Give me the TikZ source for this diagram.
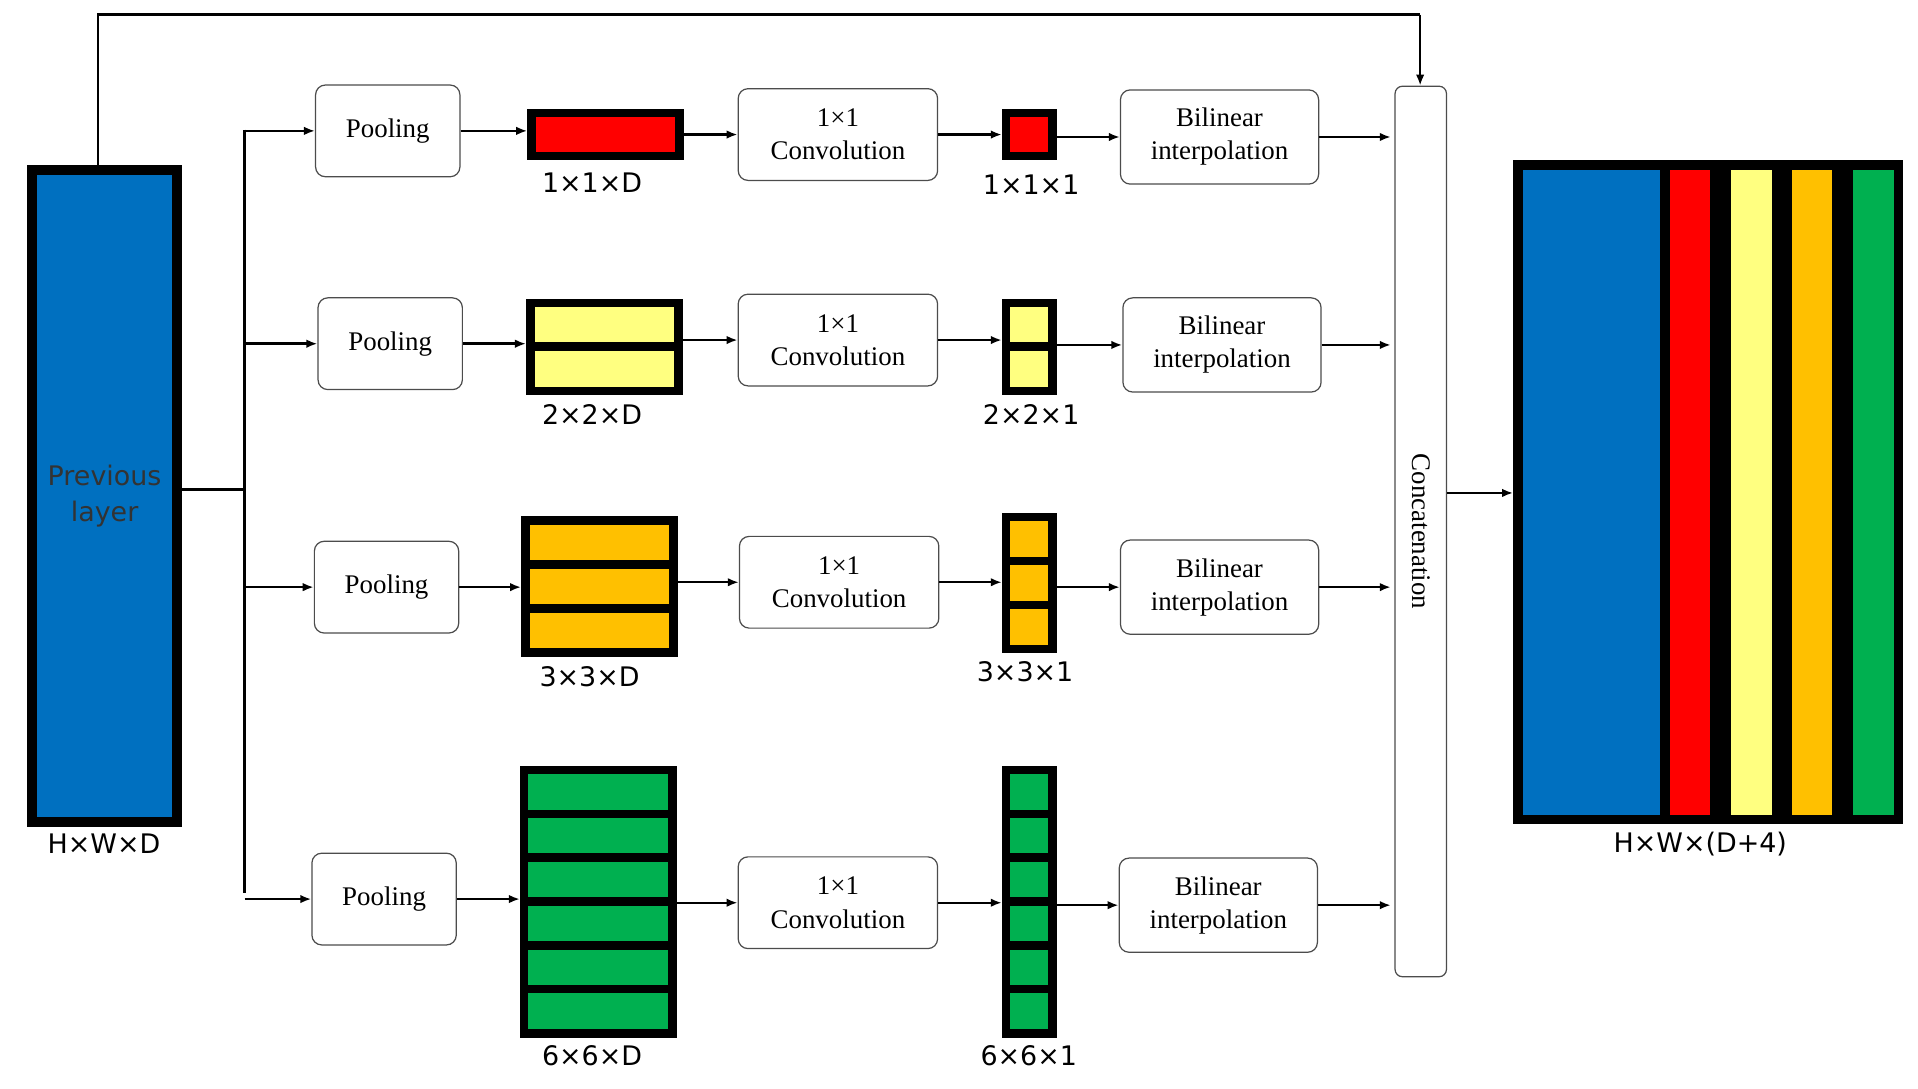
\documentclass[tikz,border=0pt]{standalone}
\usepackage{fontspec}
\setmainfont{Liberation Serif}
\newfontfamily\lab{DejaVu Sans}
\usetikzlibrary{arrows.meta}
\definecolor{cblue}{HTML}{0070C0}
\definecolor{cred}{HTML}{FF0000}
\definecolor{cyel}{HTML}{FFFF80}
\definecolor{corg}{HTML}{FFC000}
\definecolor{cgrn}{HTML}{00B050}
\newcommand\fblk[7]{%
  \node[fill=black,inner sep=0,minimum width={#4-#2},minimum height={#5-#3},anchor=north west] (#1) at (#2,#3) {};
  \pgfmathsetmacro\hh{((#5-#3)-7*(#6+1))/#6}
  \foreach \i in {1,...,#6}{
    \pgfmathsetmacro\ya{#3+7+(\i-1)*(\hh+7)}
    \pgfmathsetmacro\yb{\ya+\hh}
    \fill[#7] (#2+7,\ya) rectangle (#4-7,\yb);
  }}
\begin{document}
\begin{tikzpicture}[x=1pt,y=-1pt,
  box/.style={draw=black!70,line width=1pt,rounded corners=8pt,fill=white,align=center,font=\fontsize{22}{27}\selectfont,inner sep=0},
  pool/.style={box,minimum width=118,minimum height=75},
  conv/.style={box,minimum width=163,minimum height=75},
  bil/.style={box,minimum width=162,minimum height=77},
  lbl/.style={font=\lab\fontsize{22}{26}\selectfont},
  arr/.style={line width=2pt,-{Latex[length=9pt,width=7pt]}},
  ln/.style={line width=2pt}]
\useasboundingbox (0,0) rectangle (1568,890);
% previous layer
\node[draw=black,line width=8pt,fill=cblue,minimum width=119,minimum height=533,inner sep=0,anchor=north west,align=center,font=\lab\fontsize{22}{30}\selectfont,text=black!80] (prev) at (22,135) {Previous\\layer};
\node[lbl] (lprev) at (85,690) {H×W×D};
% branches
\coordinate (br) at (200,400);
\draw[ln] (prev.east |- br) -- (br);
\draw[ln] (200,106) -- (200,730);
\node[pool] (p1) at (317,107) {Pooling};
\node[pool] (p2) at (319,281) {Pooling};
\node[pool] (p3) at (316,480) {Pooling};
\node[pool] (p4) at (314,735) {Pooling};
\foreach \p in {p1,p2,p3,p4}{\draw[arr] (\p.west -| br) -- (\p.west);}
% blocks
\fblk{b1}{431}{89}{559}{131}{1}{cred}
\fblk{b2}{430}{244}{558}{323}{2}{cyel}
\fblk{b3}{426}{422}{554}{537}{3}{corg}
\fblk{b4}{425}{626}{553}{848}{6}{cgrn}
\node[lbl] at (484,149) {1×1×D};
\node[lbl] at (484,339) {2×2×D};
\node[lbl] at (482,553) {3×3×D};
\node[lbl] at (484,863) {6×6×D};
\node[conv] (c1) at (685,110) {1×1\\Convolution};
\node[conv] (c2) at (685,278) {1×1\\Convolution};
\node[conv] (c3) at (686,476) {1×1\\Convolution};
\node[conv] (c4) at (685,738) {1×1\\Convolution};
\fblk{s1}{819}{89}{864}{131}{1}{cred}
\fblk{s2}{819}{244}{864}{323}{2}{cyel}
\fblk{s3}{819}{419}{864}{534}{3}{corg}
\fblk{s4}{819}{626}{864}{848}{6}{cgrn}
\node[lbl] at (843,151) {1×1×1};
\node[lbl] at (843,339) {2×2×1};
\node[lbl] at (838,549) {3×3×1};
\node[lbl] at (841,863) {6×6×1};
\node[bil] (i1) at (997,112) {Bilinear\\interpolation};
\node[bil] (i2) at (999,282) {Bilinear\\interpolation};
\node[bil] (i3) at (997,480) {Bilinear\\interpolation};
\node[bil] (i4) at (996,740) {Bilinear\\interpolation};
\node[box,minimum width=42,minimum height=728,rounded corners=6pt,anchor=north west] (cat) at (1140,70) {};
\node[rotate=-90,font=\fontsize{22}{27}\selectfont] at (cat.center) {Concatenation};
\foreach \r in {1,2,3,4}{
  \draw[arr] (p\r.east) -- (p\r.east -| b\r.west);
  \draw[arr] (b\r.east |- c\r.west) -- (c\r.west);
  \draw[arr] (c\r.east) -- (c\r.east -| s\r.west);
  \draw[arr] (s\r.east |- i\r.west) -- (i\r.west);
  \coordinate (e\r) at (1137,0);
  \draw[arr] (i\r.east) -- (i\r.east -| e\r);
}
% top skip
\coordinate (t1) at (80,12);
\coordinate (t2) at (1161,12);
\draw[ln] (prev.north -| t1) -- (t1) -- (t2);
\draw[arr] (t2) -- (t2 |- cat.north);
% output
\node[draw=black,fill=black,line width=0pt,minimum width=318,minimum height=542,inner sep=0,anchor=north west] (out) at (1237,131) {};
\fill[cblue] (1245,139) rectangle (1357,666);
\fill[cred] (1365,139) rectangle (1398,666);
\fill[cyel] (1415,139) rectangle (1449,666);
\fill[corg] (1465,139) rectangle (1498,666);
\fill[cgrn] (1515,139) rectangle (1548,666);
\node[lbl] at (1390,690) {H×W×(D+4)};
\draw[arr] (cat.east |- 0,403) -- (out.west |- 0,403);
\end{tikzpicture}
\end{document}
